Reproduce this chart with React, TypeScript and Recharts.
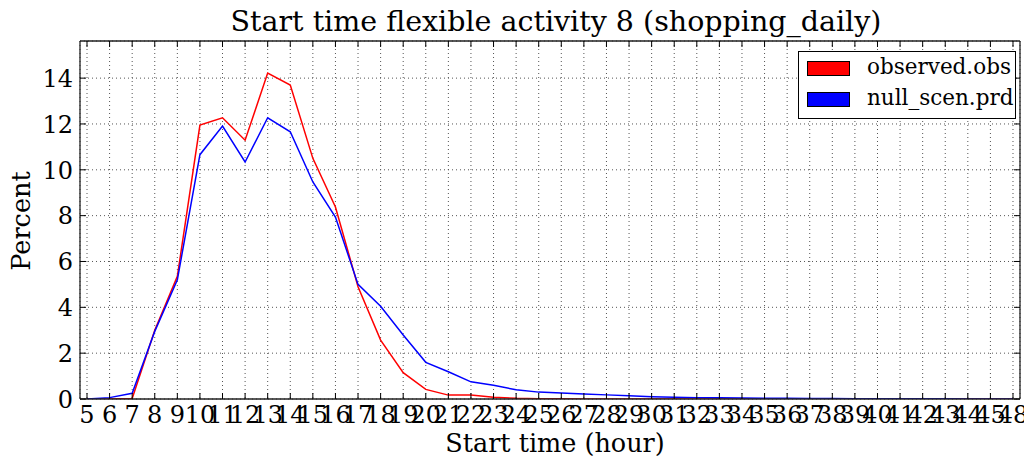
import React from 'react'
import {
	LineChart,
	Line,
	XAxis,
	YAxis,
	CartesianGrid,
	Legend,
} from 'recharts'

// hours present in the data (46 and 47 are missing)
const hours = [
	5, 6, 7, 8, 9, 10, 11, 12, 13, 14, 15, 16, 17, 18, 19, 20, 21, 22, 23, 24, 25,
	26, 27, 28, 29, 30, 31, 32, 33, 34, 35, 36, 37, 38, 39, 40, 41, 42, 43, 44,
	45, 48,
]

// percent per start hour
const observedObs = [
	0, 0, 0.02, 3.0, 5.35, 11.95, 12.27, 11.29, 14.22, 13.7, 10.5, 8.38, 4.9,
	2.57, 1.15, 0.42, 0.17, 0.17, 0.08, 0.03, 0.01, 0.01, 0, 0, 0, 0, 0, 0, 0, 0,
	0, 0, 0, 0, 0, 0, 0, 0, 0, 0, 0, 0,
]

const nullScenPrd = [
	0, 0.06, 0.25, 2.95, 5.2, 10.66, 11.91, 10.34, 12.27, 11.66, 9.47, 7.94, 5.0,
	4.05, 2.79, 1.6, 1.19, 0.75, 0.6, 0.4, 0.3, 0.26, 0.22, 0.18, 0.14, 0.1, 0.08,
	0.06, 0.05, 0.04, 0.03, 0.03, 0.02, 0.02, 0.01, 0.01, 0.01, 0.01, 0.01, 0, 0,
	0,
]

const yTicks = [0, 2, 4, 6, 8, 10, 12, 14]

const data = hours.map((h, i) => ({
	i,
	hour: h,
	obs: observedObs[i],
	prd: nullScenPrd[i],
}))

const xTicks = hours.map((_, i) => i)
const xDomain = [-0.31, hours.length - 1 + 0.31]
const yDomain = [0, 15.62]

const FONT = '"DejaVu Serif", serif'
const TICK_LEN = 6
const TICK_FONT = 24

const BottomTick = (props: any) => {
	const { x, y, payload } = props
	return (
		<g>
			<line x1={x} y1={y} x2={x} y2={y - TICK_LEN} stroke='#000' />
			<text x={x} y={y + 24} textAnchor='middle' fontSize={TICK_FONT} fontFamily={FONT} fill='#000'>
				{hours[payload.value]}
			</text>
		</g>
	)
}

const TopTick = (props: any) => {
	const { x, y } = props
	return <line x1={x} y1={y} x2={x} y2={y + TICK_LEN} stroke='#000' />
}

const LeftTick = (props: any) => {
	const { x, y, payload } = props
	return (
		<g>
			<line x1={x} y1={y} x2={x + TICK_LEN} y2={y} stroke='#000' />
			<text x={x - 7} y={y + 8.7} textAnchor='end' fontSize={TICK_FONT} fontFamily={FONT} fill='#000'>
				{payload.value}
			</text>
		</g>
	)
}

const RightTick = (props: any) => {
	const { x, y } = props
	return <line x1={x} y1={y} x2={x - TICK_LEN} y2={y} stroke='#000' />
}

const legendItems = [
	{ name: 'observed.obs', color: '#ff0000' },
	{ name: 'null_scen.prd', color: '#0000ff' },
]

const LegendBox = () => (
	<div
		style={{
			width: 218,
			height: 68,
			boxSizing: 'border-box',
			border: '1px solid #000',
			background: '#fff',
			fontFamily: FONT,
			fontSize: 21.5,
			position: 'relative',
		}}
	>
		{legendItems.map((item, k) => (
			<div key={item.name} style={{ position: 'absolute', left: 8, top: 9 + k * 30.5, height: 15, display: 'flex', alignItems: 'center' }}>
				<div style={{ width: 43, height: 15, background: item.color, border: '1px solid #000', boxSizing: 'border-box' }} />
				<span style={{ marginLeft: 17, lineHeight: '15px', position: 'relative', top: -2, whiteSpace: 'nowrap' }}>{item.name}</span>
			</div>
		))}
	</div>
)

export default function App() {
	return (
		<div style={{ position: 'absolute', left: 0, top: 0, width: 1024, height: 459, background: '#fff' }}>
			<LineChart width={1024} height={459} data={data} margin={{ top: 40, right: 3, bottom: 0, left: 0 }}>
				<CartesianGrid stroke='#555' strokeDasharray='1 3' strokeWidth={1} />
				<XAxis
					dataKey='i'
					type='number'
					domain={xDomain}
					ticks={xTicks}
					interval={0}
					allowDataOverflow
					height={60}
					tickSize={0}
					tickMargin={0}
					tickLine={false}
					axisLine={{ stroke: '#222', strokeWidth: 1.3 }}
					tick={<BottomTick />}
				/>
				<XAxis
					xAxisId='top'
					orientation='top'
					dataKey='i'
					type='number'
					domain={xDomain}
					ticks={xTicks}
					interval={0}
					allowDataOverflow
					height={1}
					tickSize={0}
					tickMargin={0}
					tickLine={false}
					axisLine={{ stroke: '#222', strokeWidth: 1.3 }}
					tick={<TopTick />}
				/>
				<YAxis
					type='number'
					domain={yDomain}
					ticks={yTicks}
					interval={0}
					allowDataOverflow
					width={80}
					tickSize={0}
					tickMargin={0}
					tickLine={false}
					axisLine={{ stroke: '#222', strokeWidth: 1.3 }}
					tick={<LeftTick />}
				/>
				<YAxis
					yAxisId='right'
					orientation='right'
					type='number'
					domain={yDomain}
					ticks={yTicks}
					interval={0}
					allowDataOverflow
					width={1}
					tickSize={0}
					tickMargin={0}
					tickLine={false}
					axisLine={{ stroke: '#222', strokeWidth: 1.3 }}
					tick={<RightTick />}
				/>
				<Legend
					layout='horizontal'
					verticalAlign='middle'
					align='center'
					wrapperStyle={{ position: 'absolute', left: 798, top: 51, width: 218, height: 68 }}
					content={<LegendBox />}
				/>
				<Line
					type='linear'
					dataKey='obs'
					name='observed.obs'
					stroke='#ff0000'
					strokeWidth={1.5}
					dot={false}
					isAnimationActive={false}
				/>
				<Line
					type='linear'
					dataKey='prd'
					name='null_scen.prd'
					stroke='#0000ff'
					strokeWidth={1.5}
					dot={false}
					isAnimationActive={false}
				/>
			</LineChart>

			{/* title and axis labels */}
			<svg width={1024} height={459} style={{ position: 'absolute', left: 0, top: 0, pointerEvents: 'none' }}>
				<text x={556} y={31} textAnchor='middle' fontSize={28.5} fontFamily={FONT} fill='#000'>
					Start time flexible activity 8 (shopping_daily)
				</text>
				<text x={555} y={452} textAnchor='middle' fontSize={25.5} fontFamily={FONT} fill='#000'>
					Start time (hour)
				</text>
				<text
					x={0}
					y={0}
					transform='translate(30 221) rotate(-90)'
					textAnchor='middle'
					fontSize={25.5}
					fontFamily={FONT}
					fill='#000'
				>
					Percent
				</text>
			</svg>
		</div>
	)
}
